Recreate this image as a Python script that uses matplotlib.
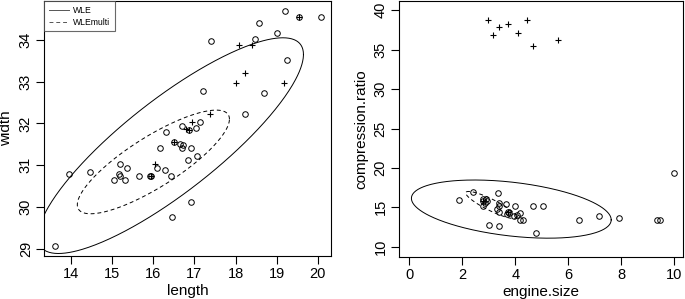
import numpy as np
import matplotlib
matplotlib.use("Agg")
import matplotlib.pyplot as plt

plt.rcParams['font.family'] = ['Liberation Sans', 'DejaVu Sans']

# ---- left panel data (length vs width) ----
left_circ_x = [19.21, 20.07, 19.54, 18.58, 19.00, 17.39, 18.48, 19.25, 18.68, 17.20, 18.22,
               17.14, 17.03, 16.87, 16.70, 16.31, 16.17, 16.64, 16.70, 16.92, 16.73, 16.51,
               13.61, 13.95, 14.47, 15.18, 15.35, 15.16, 15.18, 15.05, 15.32, 15.66, 15.95,
               15.93, 16.08, 16.28, 16.42, 16.46, 16.84, 17.06, 16.92]
left_circ_y = [34.69, 34.55, 34.55, 34.40, 34.16, 33.97, 34.01, 33.53, 32.72, 32.77, 32.23,
               32.04, 31.90, 31.85, 31.95, 31.80, 31.42, 31.51, 31.42, 31.42, 31.48, 31.56,
               29.06, 30.79, 30.84, 31.04, 30.93, 30.80, 30.75, 30.64, 30.64, 30.75, 30.75,
               30.75, 30.93, 30.88, 30.75, 29.77, 31.13, 31.23, 30.12]
left_plus_x = [19.54, 18.08, 18.40, 18.22, 18.01, 19.18, 17.38, 16.94, 16.87, 16.51, 16.04, 15.95, 16.80]
left_plus_y = [34.55, 33.87, 33.87, 33.20, 32.96, 32.96, 32.23, 32.04, 31.85, 31.56, 31.04, 30.75, 31.88]

# ellipse parameters: center x, center y, x half-extent, y half-extent, correlation
left_wle = [16.42, 31.47, 3.23, 2.58, 0.845]
left_wlemulti = [16.00, 31.08, 1.85, 1.24, 0.825]

# ---- right panel data (engine.size vs compression.ratio) ----
right_circ_x = [10.0, 1.86, 2.42, 3.34, 2.78, 2.78, 2.85, 2.78, 2.95, 2.90, 3.01, 3.37, 3.64,
                3.99, 4.66, 5.03, 4.78, 6.40, 7.17, 7.92, 9.34, 9.46, 4.18, 4.29, 4.18, 3.72,
                3.76, 3.70, 3.40, 3.38, 3.30, 3.40, 4.05, 3.95]
right_circ_y = [19.35, 15.98, 16.99, 16.81, 16.1, 15.8, 15.6, 15.2, 15.8, 16.0, 12.78, 12.61, 15.47,
                15.13, 15.13, 15.13, 11.76, 13.45, 13.96, 13.62, 13.45, 13.45, 14.29, 13.45, 13.45, 14.4,
                14.3, 14.2, 15.5, 15.2, 14.8, 14.4, 14.0, 13.9]
right_plus_x = [2.97, 3.16, 3.37, 3.74, 4.10, 4.44, 4.66, 5.61, 2.80, 3.72]
right_plus_y = [38.74, 36.92, 37.93, 38.23, 37.09, 38.74, 35.45, 36.24, 15.8, 14.35]

right_wle = [3.85, 14.78, 3.77, 3.69, -0.37]
right_wlemulti = [3.09, 15.30, 0.96, 1.72, -0.885]


def ellipse(params, n=400):
    cx, cy, a, b, rho = params
    t = np.linspace(0, 2 * np.pi, n)
    x = cx + a * np.cos(t)
    y = cy + b * (rho * np.cos(t) + np.sqrt(1 - rho ** 2) * np.sin(t))
    return x, y


fig = plt.figure(figsize=(6.85, 2.99), dpi=100)
ax1 = fig.add_axes([44 / 685, 1 - 256 / 299, (331 - 44) / 685, 255 / 299])
ax2 = fig.add_axes([398.7 / 685, 1 - 256.7 / 299, (683 - 398.7) / 685, 255.7 / 299])

mk = dict(linestyle='none', color='black')
for ax, cx, cy, px, py, e1, e2 in [
    (ax1, left_circ_x, left_circ_y, left_plus_x, left_plus_y, left_wle, left_wlemulti),
    (ax2, right_circ_x, right_circ_y, right_plus_x, right_plus_y, right_wle, right_wlemulti),
]:
    ax.plot(cx, cy, marker='o', mfc='none', mec='black', ms=4.0, mew=0.7, **mk)
    ax.plot(px, py, marker='+', ms=4.5, mew=0.8, **mk)
    x, y = ellipse(e1)
    l1, = ax.plot(x, y, color='black', lw=0.7, label='WLE')
    x, y = ellipse(e2)
    l2, = ax.plot(x, y, color='black', lw=0.7, ls=(0, (4, 3)), label='WLEmulti')
    for s in ax.spines.values():
        s.set_linewidth(0.8)
    ax.tick_params(direction='out', length=6, width=0.8, labelsize=10.5, pad=2)

ax1.set_xlim(13.34, 20.32)
ax1.set_ylim(28.83, 34.93)
ax1.set_xticks([14, 15, 16, 17, 18, 19, 20])
ax1.set_yticks([29, 30, 31, 32, 33, 34])
ax1.set_xlabel('length', fontsize=11, labelpad=2)
ax1.set_ylabel('width', fontsize=11, labelpad=4)

ax2.set_xlim(-0.4, 10.33)
ax2.set_ylim(8.74, 41.18)
ax2.set_xticks([0, 2, 4, 6, 8, 10])
ax2.set_yticks([10, 15, 20, 25, 30, 35, 40])
ax2.set_xlabel('engine.size', fontsize=11, labelpad=2)
ax2.set_ylabel('compression.ratio', fontsize=11, labelpad=4)

for ax in (ax1, ax2):
    plt.setp(ax.get_yticklabels(), rotation=90, va='center')

leg = ax1.legend(handles=[l1, l2], loc='upper left', fontsize=6.2, frameon=True, fancybox=False,
                 edgecolor='#444444', borderaxespad=0, handlelength=2.3, borderpad=0.55,
                 labelspacing=0.35, handletextpad=0.5)
leg.get_frame().set_linewidth(0.8)
for h in leg.get_lines():
    h.set_color('#555555')

fig.savefig('out.png', dpi=100)
